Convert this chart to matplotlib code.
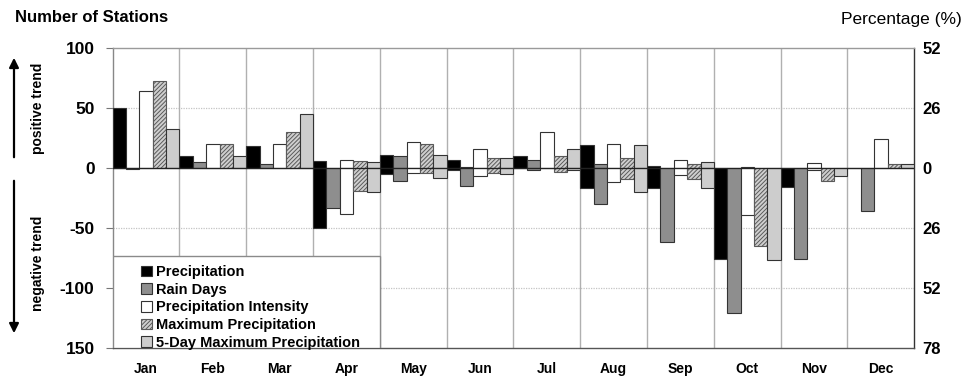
import matplotlib
matplotlib.use("Agg")
import matplotlib.pyplot as plt
import numpy as np
from matplotlib.patches import Rectangle, FancyArrowPatch

plt.rcParams['font.family'] = ['Liberation Sans', 'DejaVu Sans']
plt.rcParams['hatch.linewidth'] = 0.7

months = ["Jan", "Feb", "Mar", "Apr", "May", "Jun",
          "Jul", "Aug", "Sep", "Oct", "Nov", "Dec"]
series_names = ["Precipitation", "Rain Days", "Precipitation Intensity",
                "Maximum Precipitation", "5-Day Maximum Precipitation"]

# number of stations with a positive trend, per month
precip_pos = [50, 10, 18, 6, 11, 7, 10, 19, 2, 0, 0, 0]
raindays_pos = [0, 5, 3, 0, 10, 1, 7, 3, 0, 0, 0, 0]
intensity_pos = [64, 20, 20, 7, 22, 16, 30, 20, 7, 1, 4, 24]
maxprecip_pos = [73, 20, 30, 6, 20, 8, 10, 8, 3, 0, 0, 3]
max5day_pos = [33, 10, 45, 5, 11, 8, 16, 19, 5, 0, 0, 3]

# number of stations with a negative trend, per month
precip_neg = [0, 0, 0, -50, -5, -2, 0, -17, -17, -76, -16, 0]
raindays_neg = [-1, 0, 0, -33, -11, -15, -2, -30, -62, -121, -76, -36]
intensity_neg = [0, 0, 0, -38, -4, -7, 0, -12, -6, -39, -2, 0]
maxprecip_neg = [0, 0, 0, -19, -4, -4, -3, -9, -9, -65, -11, 0]
max5day_neg = [0, 0, 0, -20, -8, -5, -2, -20, -17, -77, -7, 0]

positives = [precip_pos, raindays_pos, intensity_pos, maxprecip_pos, max5day_pos]
negatives = [precip_neg, raindays_neg, intensity_neg, maxprecip_neg, max5day_neg]

styles = [
    dict(facecolor="#000000", hatch=None),
    dict(facecolor="#8e8e8e", hatch=None),
    dict(facecolor="#ffffff", hatch=None),
    dict(facecolor="#cfcfcf", hatch="////////"),
    dict(facecolor="#cdcdcd", hatch=None),
]

total_stations = 100 / 0.52

fig = plt.figure(figsize=(9.63, 3.79), dpi=100)
ax = fig.add_axes([0.1170, 0.0826, 0.8324, 0.7900])

n_series = len(series_names)
width = 1.0 / n_series
x_month = np.arange(len(months))

handles = []
for j in range(n_series):
    xs = x_month + (j + 0.5) * width
    st = styles[j]
    kw = dict(width=width, facecolor=st["facecolor"], edgecolor="#333333",
              linewidth=0.8, zorder=3)
    if st["hatch"]:
        kw["hatch"] = st["hatch"]
    b = ax.bar(xs, positives[j], label=series_names[j], **kw)
    ax.bar(xs, negatives[j], **kw)
    handles.append(b)

# hatch colour for the hatched series
for c in ax.containers:
    for p in c.patches:
        if p.get_hatch():
            p.set_edgecolor("#5a5a5a")

ax.axhline(0, color="#222222", linewidth=0.9, zorder=4)

ax.set_xlim(0, 12)
ax.set_ylim(-150, 100)

ax.set_xticks(x_month + 0.5)
ax.set_xticklabels(months, fontsize=10, fontweight="bold")
ax.set_xticks(np.arange(1, 12), minor=True)
ax.tick_params(axis="x", which="both", length=0, pad=10.5)
ax.grid(axis="x", which="minor", color="#b0b0b0", linewidth=1.0, zorder=0)

ax.set_yticks([100, 50, 0, -50, -100, -150])
ax.set_yticklabels(["100", "50", "0", "-50", "-100", "150"],
                   fontsize=12.5, fontweight="bold")
ax.tick_params(axis="y", length=5, width=0.8, color="#777777", pad=8)
for yv in [50, -50, -100]:
    ax.axhline(yv, color="#c4c4c4", linewidth=0.9, linestyle=(0, (1, 1)), zorder=0)

for side, col in [("top", "#9a9a9a"), ("left", "#888888"),
                  ("bottom", "#555555"), ("right", "#333333")]:
    ax.spines[side].set_color(col)
    ax.spines[side].set_linewidth(1.0)

ax2 = ax.twinx()
ax2.set_ylim(-150 * 100 / total_stations, 100 * 100 / total_stations)
pct_ticks = [52, 26, 0, -26, -52, -78]
ax2.set_yticks(pct_ticks)
ax2.set_yticklabels([str(abs(t)) for t in pct_ticks], fontsize=12, fontweight="bold")
ax2.tick_params(axis="y", length=0, pad=6)
for s in ax2.spines.values():
    s.set_visible(False)

# legend panel in the lower-left corner
panel = Rectangle((0, 0), 4 / 12, 92 / 299.4, transform=ax.transAxes,
                  facecolor="white", edgecolor="#8a8a8a", linewidth=1.0, zorder=5)
ax.add_patch(panel)
leg = ax.legend(handles=handles, loc="upper left",
                bbox_to_anchor=(0.026, 0.30), frameon=False,
                prop=dict(weight="bold", size=10.5),
                handlelength=0.75, handleheight=0.75, handletextpad=0.3,
                labelspacing=0.25, borderpad=0.0)
leg.set_zorder(6)

fig.text(15 / 963, 1 - 22 / 379, "Number of Stations", fontsize=12,
         fontweight="bold", ha="left", va="baseline")
fig.text(962 / 963, 1 - 24 / 379, "Percentage (%)", fontsize=12.5,
         ha="right", va="baseline")

# trend arrows beside the left axis
fig.patches.append(FancyArrowPatch((14 / 963, 1 - 160 / 379), (14 / 963, 1 - 55 / 379),
                                   transform=fig.transFigure, arrowstyle="-|>",
                                   mutation_scale=14, color="black", linewidth=1.6))
fig.patches.append(FancyArrowPatch((14 / 963, 1 - 178 / 379), (14 / 963, 1 - 336 / 379),
                                   transform=fig.transFigure, arrowstyle="-|>",
                                   mutation_scale=14, color="black", linewidth=1.6))
fig.text(38 / 963, 1 - 108 / 379, "positive trend", rotation=90, fontsize=10,
         fontweight="bold", ha="center", va="center")
fig.text(38 / 963, 1 - 263 / 379, "negative trend", rotation=90, fontsize=10,
         fontweight="bold", ha="center", va="center")

fig.savefig("out.png", dpi=100)
